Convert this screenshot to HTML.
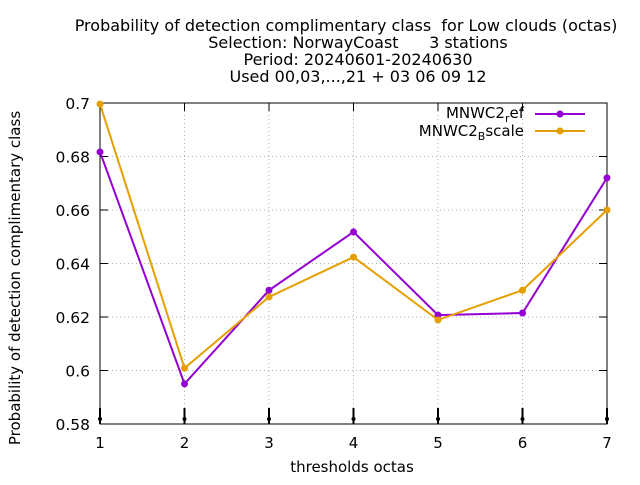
<!DOCTYPE html>
<html><head><meta charset="utf-8"><style>
body{margin:0;background:#fff}
svg{font-family:"DejaVu Sans","Liberation Sans",sans-serif}
text{white-space:pre}
</style></head><body>
<svg id="chart" width="640" height="480" xmlns="http://www.w3.org/2000/svg">
<g font-size="16" text-anchor="middle" fill="#000">
<text x="346" y="31">Probability of detection complimentary class  for Low clouds (octas)</text>
<text x="358" y="48">Selection: NorwayCoast      3 stations</text>
<text x="358" y="65">Period: 20240601-20240630</text>
<text x="358" y="82">Used 00,03,...,21 + 03 06 09 12</text>
</g>
<g id="grid"></g>
<g id="axes"></g>
<g id="series"></g>
<text x="352" y="472" font-size="15" text-anchor="middle">thresholds octas</text>
<text transform="translate(20,278) rotate(-90)" font-size="15" text-anchor="middle">Probability of detection complimentary class</text>
<g font-size="15">
<g>
<text x="524" y="118" text-anchor="end">MNWC2<tspan font-size="11" dy="4">r</tspan><tspan dy="-4">ef</tspan></text>
<line x1="535" y1="114" x2="585" y2="114" stroke="#9400d3" stroke-width="2"/>
<circle cx="560" cy="114" r="3.5" fill="#9400d3"/>
</g>
<g>
<text x="524" y="136" text-anchor="end">MNWC2<tspan font-size="11" dy="4">B</tspan><tspan dy="-4">scale</tspan></text>
<line x1="535" y1="131" x2="585" y2="131" stroke="#e69f00" stroke-width="2"/>
<circle cx="560" cy="131" r="3.5" fill="#e69f00"/>
</g>
</g>
</svg>
<script>
const categories=[1,2,3,4,5,6,7];
const refValues=[0.6817,0.595,0.630,0.6518,0.6207,0.6215,0.672];
const bscaleValues=[0.6996,0.6009,0.6275,0.6424,0.6189,0.630,0.660];
const yTicks=[0.58,0.6,0.62,0.64,0.66,0.68,0.7];
const yTickLabels=["0.58","0.6","0.62","0.64","0.66","0.68","0.7"];
const L=100,R=607,T=103,B=424;
const xs=v=>L+(v-1)/6*(R-L);
const ys=v=>B-(v-0.58)/0.12*(B-T);
const NS="http://www.w3.org/2000/svg";
function mk(tag,attrs,parent,txt){const e=document.createElementNS(NS,tag);for(const k in attrs)e.setAttribute(k,attrs[k]);if(txt!==undefined)e.textContent=txt;parent.appendChild(e);return e;}
const grid=document.getElementById('grid'),axes=document.getElementById('axes'),series=document.getElementById('series');
yTicks.forEach((t,i)=>{const y=ys(t);
 if(i>0&&i<yTicks.length-1){const g=mk('line',{x1:L,x2:R,y1:y,y2:y,stroke:'#b0b0b0','stroke-dasharray':'1,3'},grid);}
 mk('line',{x1:L,x2:L+8,y1:y,y2:y,stroke:'#000'},axes);mk('line',{x1:R,x2:R-8,y1:y,y2:y,stroke:'#000'},axes);
 const tx=mk('text',{x:L-10,y:y+6,'font-size':15.5,'text-anchor':'end'},axes,yTickLabels[i]);
 });
categories.forEach(c=>{const x=xs(c);
 if(c>1&&c<7){const g=mk('line',{x1:x,x2:x,y1:T,y2:B,stroke:'#b0b0b0','stroke-dasharray':'1,3'},grid);}
 mk('line',{x1:x,x2:x,y1:B-16,y2:B,stroke:'#000','stroke-width':2},axes);
 mk('line',{x1:x,x2:x,y1:T,y2:T+8,stroke:'#000'},axes);
 mk('circle',{cx:x,cy:B-5,r:2,fill:'#000'},axes);
 const tx=mk('text',{x:x,y:B+24,'font-size':15,'text-anchor':'middle'},axes,String(c));
 });
const fr=mk('rect',{x:L,y:T,width:R-L,height:B-T,fill:'none',stroke:'#000'},axes);

function draw(vals,color,name){
 const pl=mk('polyline',{points:vals.map((v,i)=>xs(categories[i])+','+ys(v)).join(' '),fill:'none',stroke:color,'stroke-width':2},series);
 
 vals.forEach((v,i)=>{const p=mk('circle',{cx:xs(categories[i]),cy:ys(v),r:3.5,fill:color},series);
  });
}
draw(refValues,'#9400d3','ref');
draw(bscaleValues,'#e69f00','bscale');
</script>
</body></html>
